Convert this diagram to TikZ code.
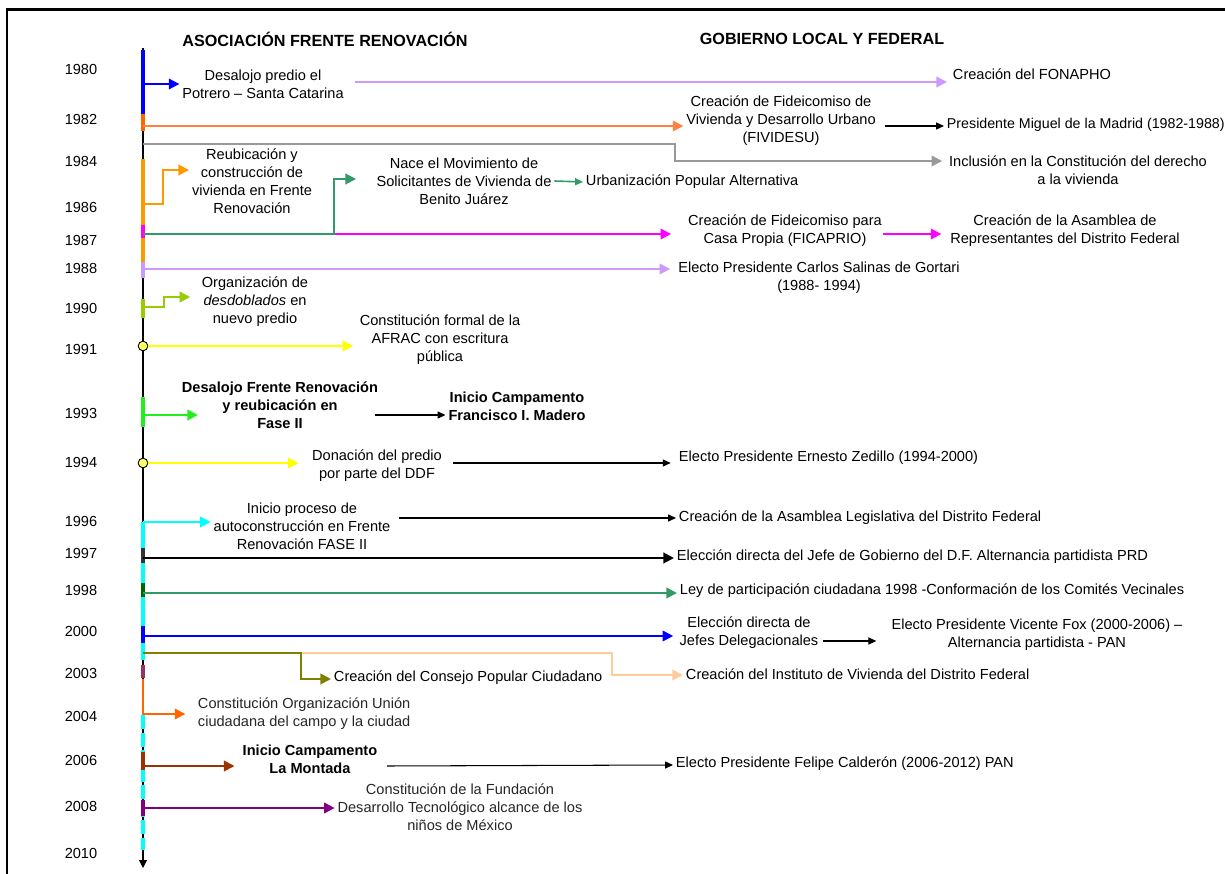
\documentclass[tikz,border=0pt]{standalone}
\usepackage{fontspec}
\setmainfont{Liberation Sans}
\usetikzlibrary{arrows.meta,calc}
\definecolor{blu}{HTML}{0000FF}
\definecolor{orA}{HTML}{FF8040}
\definecolor{orB}{HTML}{FF9900}
\definecolor{orC}{HTML}{FF6600}
\definecolor{gry}{HTML}{999999}
\definecolor{sea}{HTML}{339966}
\definecolor{mag}{HTML}{FF00FF}
\definecolor{lav}{HTML}{CC99FF}
\definecolor{ygr}{HTML}{99CC00}
\definecolor{yel}{HTML}{FFFF00}
\definecolor{dotY}{HTML}{FFFF66}
\definecolor{grn}{HTML}{22EE22}
\definecolor{cya}{HTML}{00FFFF}
\definecolor{dkg}{HTML}{333333}
\definecolor{dgr}{HTML}{006600}
\definecolor{oli}{HTML}{808000}
\definecolor{pch}{HTML}{FFCC99}
\definecolor{brn}{HTML}{993300}
\definecolor{pur}{HTML}{800080}
\definecolor{mar}{HTML}{993366}

\begin{document}
\begin{tikzpicture}[
  x=0.02cm, y=-0.02cm,
  font=\fontsize{8.3}{10.25}\selectfont,
  cbig/.style={-{Triangle[length=6pt,width=6pt]}, line width=1.1pt},
  cblk/.style={-{Triangle[length=4.5pt,width=4pt]}, line width=0.6pt, draw=black},
  seg/.style={line width=1.8pt},
  ev/.style={align=center, inner sep=1.5pt},
  evb/.style={ev, font=\fontsize{8.3}{10.25}\selectfont\bfseries},
  evl/.style={anchor=west, inner sep=1.5pt},
  yr/.style={inner sep=0pt},
  hd/.style={font=\fontsize{9.2}{11}\selectfont\bfseries, inner sep=0pt},
  yrdot/.style={circle, draw=black, line width=0.5pt, fill=dotY, minimum size=5.5pt, inner sep=0pt},
]
\useasboundingbox (0,0) rectangle (1225,874);

% =========================== FRAME + HEADERS ===========================
\draw[line width=1.7pt] (7,874) -- (7,10) -- (1225,10);
\node[hd] (hFR) at (325,39) {ASOCIACIÓN FRENTE RENOVACIÓN};
\node[hd] (hGO) at (822,39) {GOBIERNO LOCAL Y FEDERAL};

% =========================== YEARS + AXIS ===========================
\foreach \yy/\yv in {1980/69, 1982/119, 1984/161, 1986/207, 1987/240, 1988/268,
  1990/308, 1991/349, 1993/413, 1994/462, 1996/521, 1997/553, 1998/590,
  2000/631, 2003/673, 2004/716, 2006/760, 2008/806, 2010/853}
  \node[yr] (y\yy) at (81,\yv) {\yy};

\draw[-{Triangle[length=4.5pt,width=4.5pt]}, line width=0.6pt] (143,48) -- (143,868);
\draw[seg, cya, dash pattern=on 8pt off 2pt] (143,715) -- (143,850);
\foreach \ya/\yb/\cc in {50/114/blu, 114/131/orC, 159/262/orB, 225/238/mag, 262/278/lav,
  299/318/ygr, 397/427/grn, 522/660/cya, 548/563/dkg, 583/597/dgr, 626/643/blu,
  665/678/mar, 752/770/brn, 800/816/pur}
  \draw[seg, draw=\cc] (143,\ya) -- (143,\yb);

% =========================== 1980 -- 1988 ===========================
\node[ev] (f80) at (263,84) {Desalojo predio el\\Potrero -- Santa Catarina};
\node[evl] (g80) at (950,74) {Creación del FONAPHO};
\coordinate (a80) at (143,84);
\draw[cbig, blu] (a80) -- (f80.west);
\draw[cbig, lav] ($(f80.east)+(8,-2)$) -- ($(g80.west)+(-3,8)$);

\node[ev] (g82) at (781,121) {Creación de Fideicomiso de\\Vivienda y Desarrollo Urbano\\(FIVIDESU)};
\node[evl, font=\fontsize{8.1}{10}\selectfont] (g82b) at (944,125) {Presidente Miguel de la Madrid (1982-1988)};
\coordinate (a82) at (143,126);
\draw[cbig, orA] (a82) -- (a82 -| g82.west);
\draw[cblk] ($(g82.east)+(6,5)$) -- ($(g82b.west)+(0,1)$);

\node[ev] (g84) at (1078,170) {Inclusión en la Constitución del derecho\\a la vivienda};
\coordinate (a84) at (143,144);
\coordinate (k84) at (675,144);
\draw[cbig, gry] (a84) -- (k84) |- ($(g84.west)+(-4,-9)$);

\node[ev] (f86) at (252,181) {Reubicación y\\construcción de\\vivienda en Frente\\Renovación};
\coordinate (a86) at (143,204);
\coordinate (k86) at (163,170);
\draw[cbig, orB] (a86) -| (k86) -- (k86 -| f86.west);

\node[ev] (f87) at (464,181) {Nace el Movimiento de\\Solicitantes de Vivienda de\\Benito Juárez};
\node[evl] (f87b) at (583,182) {Urbanización Popular Alternativa};
\node[ev] (g87) at (785,231) {Creación de Fideicomiso para\\Casa Propia (FICAPRIO)};
\node[ev] (g87b) at (1065,231) {Creación de la Asamblea de\\Representantes del Distrito Federal};
\coordinate (a87) at (143,234);
\coordinate (k87) at (334,179);
\draw[cbig, mag, shorten >=8pt] (a87) -- (a87 -| g87.west);
\draw[cbig, sea, shorten >=10pt] (a87) -| (k87) -- (k87 -| f87.west);
\draw[cblk, sea, line width=0.9pt] (f87.east) -- (f87b.west);
\draw[cbig, mag] ($(g87.east)+(-2,3)$) -- ($(g87b.west)+(-6,3)$);

\node[ev] (g88) at (819,278) {Electo Presidente Carlos Salinas de Gortari\\(1988- 1994)};
\coordinate (a88) at (143,269);
\draw[cbig, lav, shorten >=3pt] (a88) -- (a88 -| g88.west);

% =========================== 1990 -- 1996 ===========================
\node[ev] (f90) at (255,302) {Organización de\\\textit{desdoblados} en\\nuevo predio};
\coordinate (a90) at (143,307);
\coordinate (k90) at (164,297);
\draw[cbig, ygr, shorten >=5pt] (a90) -| (k90) -- (k90 -| f90.west);

\node[yrdot] (c91) at (143,346) {};
\node[ev] (f91) at (440,340) {Constitución formal de la\\AFRAC con escritura\\pública};
\draw[cbig, yel, shorten >=2pt] (c91) -- (c91 -| f91.west);

\node[evb] (f93) at (280,405) {Desalojo Frente Renovación\\y reubicación en\\Fase II};
\node[evb] (f93b) at (517,406) {Inicio Campamento\\Francisco I. Madero};
\coordinate (a93) at (143,415);
\coordinate (e93) at (198,415);
\draw[cbig, grn] (a93) -- (e93);
\draw[cblk] ($(f93.east)+(-6,10)$) -- ($(f93b.west)+(0,9)$);

\node[yrdot] (c94) at (143,463) {};
\node[ev] (f94) at (377,466) {Donación del predio\\por parte del DDF};
\node[evl] (g94) at (676,458) {Electo Presidente Ernesto Zedillo (1994-2000)};
\draw[cbig, yel, shorten >=6pt] (c94) -- (c94 -| f94.west);
\draw[cblk, shorten >=3pt] ($(f94.east)+(8,-3)$) -- ($(g94.west)+(0,5)$);

\node[ev] (f96) at (302,526) {Inicio proceso de\\autoconstrucción en Frente\\Renovación FASE II};
\node[evl] (g96) at (676,518) {Creación de la Asamblea Legislativa del Distrito Federal};
\coordinate (a96) at (143,522);
\draw[cbig, cya] (a96) -- (a96 -| f96.west);
\draw[cblk] ($(f96.east)+(6,-8)$) -- (g96.west);

% =========================== 1997 -- 2008 ===========================
\node[evl] (g97) at (674,557) {Elección directa del Jefe de Gobierno del D.F. Alternancia partidista PRD};
\coordinate (a97) at (143,558);
\draw[cbig, black] (a97) -- (a97 -| g97.west);

\node[evl] (g98) at (677,591) {Ley de participación ciudadana 1998 -Conformación de los Comités Vecinales};
\coordinate (a98) at (143,593);
\draw[cbig, sea] (a98) -- (a98 -| g98.west);

\node[ev] (g00) at (749,633) {Elección directa de\\Jefes Delegacionales};
\node[ev] (g00b) at (1037,635) {Electo Presidente Vicente Fox (2000-2006) --\\Alternancia partidista - PAN};
\coordinate (a00) at (143,636);
\draw[cbig, blu, shorten >=2pt] (a00) -- (a00 -| g00.west);
\draw[cblk, shorten >=7pt] ($(g00.east)+(2,8)$) -- ($(g00b.west)+(0,6)$);

\node[evl] (f03) at (331,678) {Creación del Consejo Popular Ciudadano};
\node[evl] (g03) at (683,674) {Creación del Instituto de Vivienda del Distrito Federal};
\coordinate (a03) at (143,653);
\coordinate (j03) at (301,653);
\coordinate (m03) at (612,653);
\coordinate (k03) at (301,679);
\draw[cbig, pch] (j03) -- (m03) |- ($(g03.west)+(0,1)$);
\draw[cbig, oli] (a03) -| (k03) -- (k03 -| f03.west);

\node[evl, align=left, text=black!85] (f04) at (195,714) {Constitución Organización Unión\\ciudadana del campo y la ciudad};
\coordinate (a04) at (143,679);
\draw[cbig, orC, shorten >=5.5pt] (a04) |- (f04.west);

\node[evb] (f06) at (310,759) {Inicio Campamento\\La Montada};
\node[evl] (g06) at (673,764) {Electo Presidente Felipe Calderón (2006-2012) PAN};
\coordinate (a06) at (143,766);
\draw[cbig, brn, shorten >=3pt] (a06) -- (a06 -| f06.west);
\draw[cblk] ($(f06.east)+(7,7)$) -- ($(g06.west)+(0,1)$);

\node[ev, text=black!85] (f08) at (460,807) {Constitución de la Fundación\\Desarrollo Tecnológico alcance de los\\niños de México};
\coordinate (a08) at (143,808);
\draw[cbig, pur] (a08) -- (a08 -| f08.west);

\end{tikzpicture}
\end{document}
